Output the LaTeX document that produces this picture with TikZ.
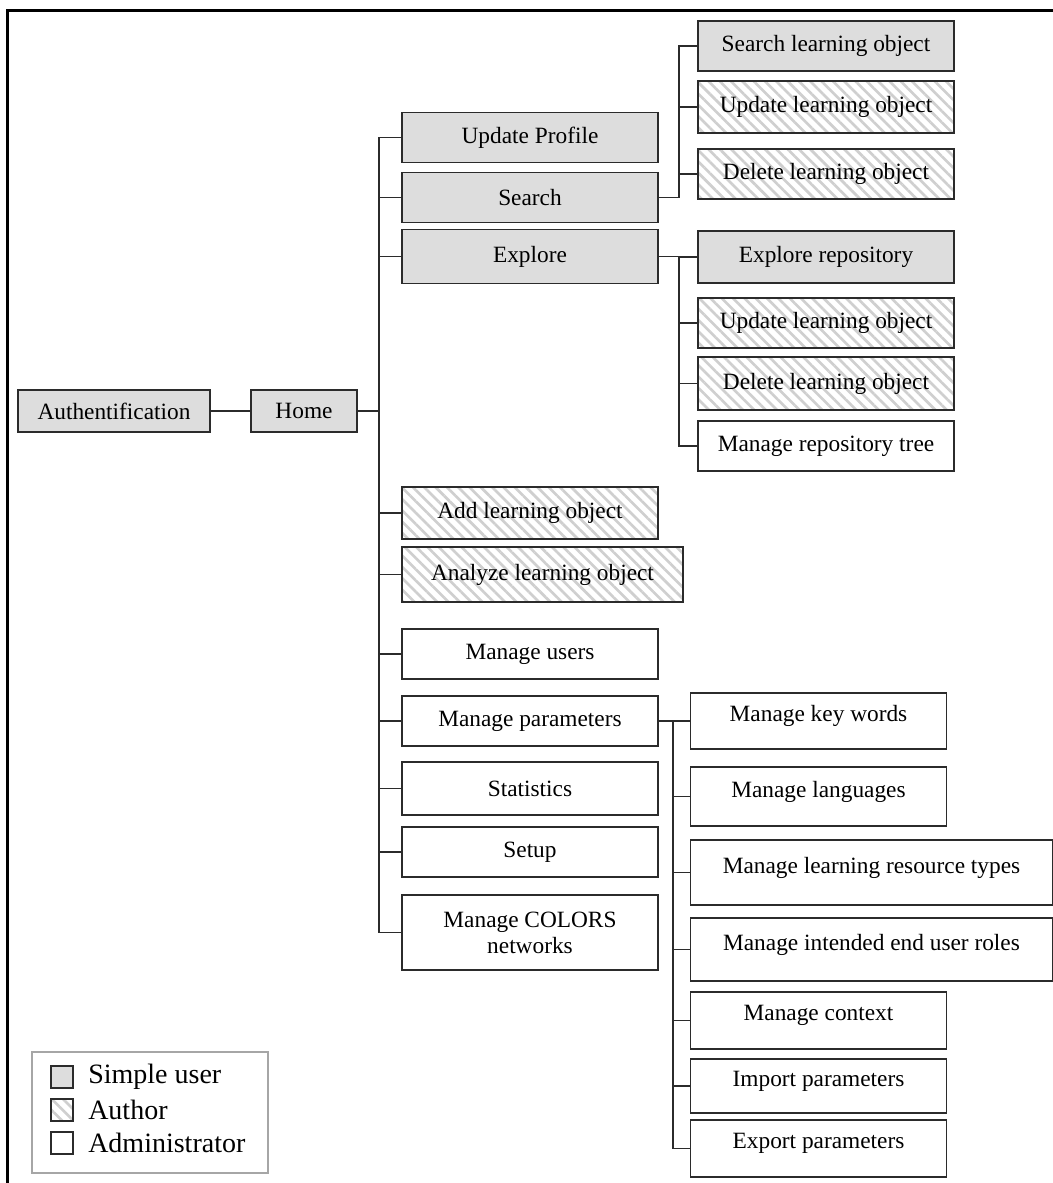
\documentclass[tikz,border=0pt]{standalone}
\usepackage{fontspec}
\setmainfont{Liberation Serif}
\usetikzlibrary{positioning,patterns.meta}

\definecolor{usergray}{HTML}{DDDDDD}
\definecolor{hatchgray}{HTML}{CFCFCF}
\definecolor{linegray}{HTML}{2B2B2B}

\begin{document}
\begin{tikzpicture}[x=0.75pt, y=-0.75pt,
    box/.style={draw=linegray, line width=1.2pt, align=center,
                font=\fontsize{17.5}{19.5}\selectfont, inner sep=3pt, outer sep=0pt,
                minimum width=192pt, minimum height=37.5pt},
    hatch/.style={pattern={Lines[angle=-45, distance=6pt, line width=2pt]},
                  pattern color=hatchgray},
    simple/.style={box, fill=usergray},
    author/.style={box, hatch},
    admin/.style={box},
    pbox/.style={admin, text depth=11pt},
    ln/.style={line width=1.3pt, draw=linegray},
    key/.style={draw=linegray, line width=1.2pt, minimum size=16.5pt, inner sep=0pt, outer sep=0pt},
    keytxt/.style={font=\fontsize{21}{24}\selectfont, inner sep=0pt}
  ]
  \useasboundingbox (0,0) rectangle (1053,1183);
  \draw[line width=2.25pt] (7,1183) |- (1053,10);

  \node[simple, minimum width=144pt, minimum height=31.5pt] (auth) at (114,411) {Authentification};
  \node[simple, right=30.75pt of auth, minimum width=79.5pt, minimum height=31.5pt] (home) {Home};

  % first level
  \node[simple] (prof) at (530,137.5) {Update Profile};
  \node[simple, below=7.5pt of prof] (search) {Search};
  \node[simple, below=5.25pt of search, minimum height=40.5pt] (explore) {Explore};
  \node[author, below=152.6pt of explore, minimum height=39pt] (addlo) {Add learning object};
  \node[author, below=6pt of addlo.south west, anchor=north west,
        minimum width=210.75pt, minimum height=41.25pt] (anlo) {Analyze learning object};
  \node[admin, below=67.5pt of addlo] (users) {Manage users};
  \node[admin, below=12.75pt of users] (params) {Manage parameters};
  \node[admin, below=12pt of params, minimum height=39.75pt] (stats) {Statistics};
  \node[admin, below=9pt of stats] (setup) {Setup};
  \node[admin, below=13.5pt of setup, minimum height=56.25pt] (colors) {Manage COLORS\\networks};

  % search
  \node[simple] (slo) at (826,46) {Search learning object};
  \node[author, below=7.5pt of slo, minimum height=39pt] (ulo1) {Update learning object};
  \node[author, below=12pt of ulo1] (dlo1) {Delete learning object};

  % explore
  \node[simple, minimum height=39pt] (erep) at (826,257) {Explore repository};
  \node[author, below=11.25pt of erep] (ulo2) {Update learning object};
  \node[author, below=6.75pt of ulo2, minimum height=39.75pt] (dlo2) {Delete learning object};
  \node[admin, below=8.25pt of dlo2] (mtree) {Manage repository tree};

  % parameters
  \node[pbox, minimum height=42pt] (kw) at (818.5,721) {Manage key words};
  \node[pbox, below=13.5pt of kw, minimum height=44.25pt] (lang) {Manage languages};
  \node[pbox, below=10.5pt of lang.south west, anchor=north west,
        minimum width=271.5pt, minimum height=48.75pt] (lrt) {Manage learning resource types};
  \node[pbox, below=9.75pt of lrt, minimum width=271.5pt, minimum height=47.25pt] (roles)
       {Manage intended end user roles};
  \node[pbox, below=8.25pt of roles.south west, anchor=north west,
        minimum height=42.75pt] (ctx) {Manage context};
  \node[pbox, below=7.5pt of ctx, minimum height=40.5pt] (imp) {Import parameters};
  \node[pbox, below=5.25pt of imp, minimum height=42.75pt] (exp) {Export parameters};

  \coordinate[right=16.5pt of home.east] (hbus);
  \coordinate[right=15.75pt of search.east] (sbus);
  \coordinate[right=15.75pt of explore.east] (ebus);
  \coordinate[right=11.25pt of params.east] (pbus);

  \draw[ln] (auth) -- (home);
  \foreach \n in {prof,search,explore,addlo,anlo,users,params,stats,setup,colors}
    \draw[ln] (home.east) -- (hbus) |- (\n.west);
  \foreach \n in {slo,ulo1,dlo1}
    \draw[ln] (search.east) -- (sbus) |- (\n.west);
  \foreach \n in {erep,ulo2,dlo2,mtree}
    \draw[ln] (explore.east) -- (ebus) |- (\n.west);
  \foreach \n in {kw,lang,lrt,roles,ctx,imp,exp}
    \draw[ln] (params.east) -- (pbus) |- (\n.west);

  % legend
  \node[draw=gray!70, line width=1.2pt, minimum width=177pt, minimum height=90.75pt,
        inner sep=0pt] (legend) at (150,1112.5) {};
  \node[key, fill=usergray] (kuser) at (62,1077) {};
  \node[key, hatch, below=8.25pt of kuser] (kauth) {};
  \node[key, below=8.25pt of kauth] (kadm) {};
  \node[keytxt, right=11.25pt of kuser] (tuser) {Simple user};
  \node[keytxt, right=11.25pt of kauth] (tauth) {Author};
  \node[keytxt, right=11.25pt of kadm] (tadm) {Administrator};
\end{tikzpicture}
\end{document}
